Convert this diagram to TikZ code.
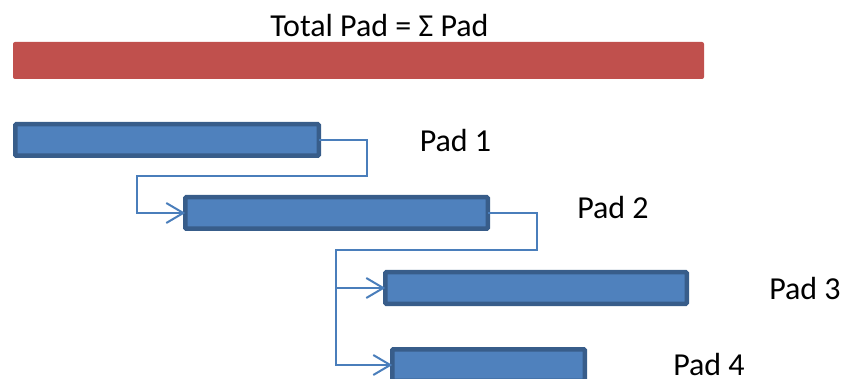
\documentclass[tikz,border=0pt]{standalone}
\usepackage{fontspec}
\setmainfont{Carlito}
\usetikzlibrary{arrows.meta}
\definecolor{padred}{HTML}{C0504D}
\definecolor{padfill}{HTML}{4F81BD}
\definecolor{padedge}{HTML}{385D8A}
\definecolor{conn}{HTML}{4A7EBB}
\tikzset{
  bar/.style={rectangle, draw=padedge, fill=padfill, line width=4.5pt, inner sep=0pt, outer sep=0pt, minimum height=31.5pt, rounded corners=1pt},
  total/.style={rectangle, fill=padred, inner sep=0pt, outer sep=0pt, minimum height=37pt, minimum width=691pt, rounded corners=2pt},
  lbl/.style={font=\fontsize{32}{38}\selectfont, inner sep=0pt, text=black, anchor=base},
  conn/.style={draw=conn, line width=2pt, -{Straight Barb[length=17pt,width=20pt,line width=2pt]}}
}
\begin{document}
\begin{tikzpicture}[x=1pt,y=-1pt]
\useasboundingbox (0,0) rectangle (843,379);
\clip (0,0) rectangle (843,379);
\node[lbl] (title) at (379.5,37) {Total Pad = Σ Pad};
\node[total] (tot) at (358.5,60.5) {};
\node[bar, minimum width=303.5pt] (b1) at (167,140) {};
\node[bar, minimum width=302.5pt] (b2) at (336.5,213) {};
\node[bar, minimum width=301.5pt] (b3) at (536,288) {};
\node[bar, minimum width=192.5pt] (b4) at (488.5,365) {};
\node[lbl] (l1) at (455.5,152) {Pad 1};
\node[lbl] (l2) at (613,219) {Pad 2};
\node[lbl] (l3) at (805,299) {Pad 3};
\node[lbl] (l4) at (709,375) {Pad 4};
\coordinate (c1a) at (367,140);
\coordinate (c1b) at (367,176);
\coordinate (c1c) at (137,176);
\coordinate (c1d) at (137,213);
\coordinate (c2a) at (537,213);
\coordinate (c2b) at (537,250);
\coordinate (c2c) at (336,250);
\coordinate (c2d) at (336,288);
\coordinate (c2e) at (336,365);
\draw[conn] (b1.east) -- (c1a) -- (c1b) -- (c1c) -- (c1d) -- (b2.west);
\draw[conn] (b2.east) -- (c2a) -- (c2b) -- (c2c) -- (c2e) -- (b4.west);
\draw[conn] (c2d) -- (b3.west);
\end{tikzpicture}
\end{document}
